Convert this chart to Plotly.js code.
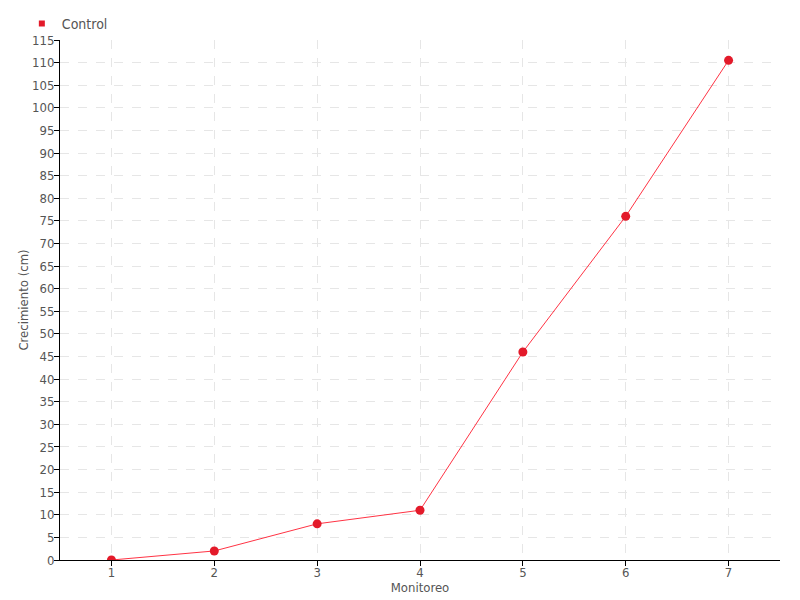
<!DOCTYPE html>
<html><head><meta charset="utf-8">
<script src="https://cdn.plot.ly/plotly-3.0.1.min.js"></script>
<style>body{margin:0;background:#fff}#chart{width:800px;height:600px}</style>
</head><body><div id="chart"></div>
<script>
const categories = [1, 2, 3, 4, 5, 6, 7];
const controlValues = [0, 2, 8, 11, 46, 76, 110.5];
const seriesName = "Control";
const yTicks = [0,5,10,15,20,25,30,35,40,45,50,55,60,65,70,75,80,85,90,95,100,105,110,115];

const font = {family: 'DejaVu Sans Condensed, Liberation Sans Narrow, sans-serif', size: 13, color: '#555'};
const traces = [
  {x: categories, y: controlValues, mode: 'lines+markers', name: seriesName, showlegend: false,
   line: {color: '#ff3344', width: 1}, marker: {color: '#e31a2a', size: 9}},
  {x: [null], y: [null], mode: 'markers', name: seriesName, showlegend: true,
   marker: {color: '#e31a2a', size: 6, symbol: 'square'}}
];
const layout = {
  width: 800, height: 600,
  margin: {l: 60, r: 20, t: 40, b: 40},
  paper_bgcolor: '#fff', plot_bgcolor: '#fff',
  font: font,
  showlegend: true,
  legend: {x: -0.053, y: 0.987, xref: 'paper', yref: 'container', xanchor: 'left', yanchor: 'top', orientation: 'h', font: {family: font.family, size: 14, color: '#555'},
    bgcolor: 'rgba(0,0,0,0)', itemwidth: 30, tracegroupgap: 0},
  xaxis: {range: [0.5, 7.5], tickvals: categories, ticks: 'outside', ticklen: 5, tickcolor: '#000',
    showline: true, linecolor: '#000', linewidth: 1, zeroline: false, ticklabelstandoff: -5,
    showgrid: true, gridcolor: '#e6e6e6', griddash: 'dash', gridwidth: 1,
    title: {text: 'Monitoreo', standoff: 0, font: font}},
  yaxis: {range: [0, 115], tickvals: yTicks, ticks: 'outside', ticklen: 5, tickcolor: '#000',
    showline: true, linecolor: '#000', linewidth: 1, zeroline: false, ticklabelstandoff: -3,
    showgrid: true, gridcolor: '#e6e6e6', griddash: 'dash', gridwidth: 1,
    title: {text: 'Crecimiento (cm)', standoff: 0, font: font}}
};
Plotly.newPlot('chart', traces, layout, {displayModeBar: false});
</script></body></html>
